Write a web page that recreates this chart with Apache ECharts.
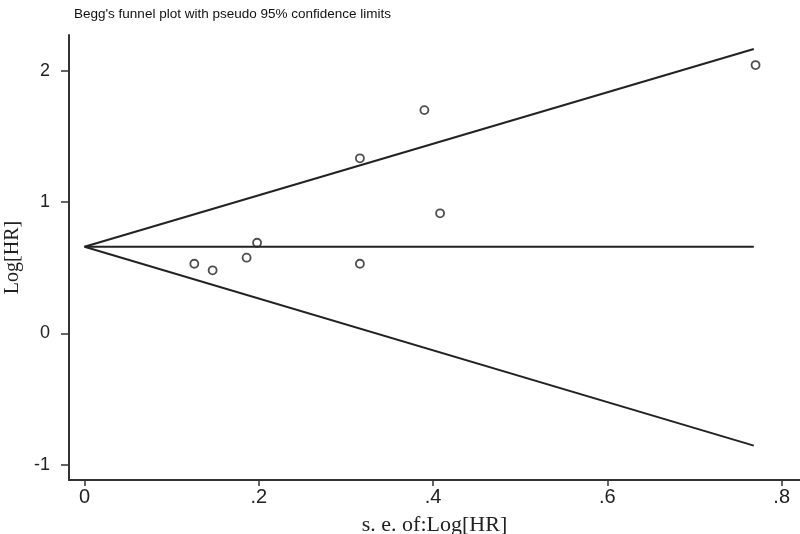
<!DOCTYPE html>
<html>
<head>
<meta charset="utf-8">
<script src="https://cdn.jsdelivr.net/npm/echarts@6/dist/echarts.min.js"></script>
<style>html,body{margin:0;padding:0;background:#fff;}#chart{width:800px;height:534px;}</style>
</head>
<body>
<div id="chart"></div>
<script>
// Study estimates
const seLogHR = [0.126, 0.147, 0.186, 0.198, 0.316, 0.316, 0.390, 0.408, 0.770];
const logHR   = [0.530, 0.480, 0.576, 0.690, 1.333, 0.530, 1.700, 0.914, 2.043];
// Funnel (pooled estimate and pseudo 95% limits), endpoints
const pooledLine = [[0, 0.66], [0.768, 0.66]];
const upperLimit = [[0, 0.66], [0.768, 2.165]];
const lowerLimit = [[0, 0.66], [0.768, -0.855]];
// Ticks
const xTicks = [0, 0.2, 0.4, 0.6, 0.8];
const yTicks = [-1, 0, 1, 2];

const chart = echarts.init(document.getElementById('chart'));
const ink = '#222';
const lineStyle = { color: ink, width: 2 };
const points = seLogHR.map((s, i) => [s, logHR[i]]);

chart.setOption({
  animation: false,
  backgroundColor: '#fff',
  title: {
    text: "Begg's funnel plot with pseudo 95% confidence limits",
    left: 69, top: 2,
    textStyle: { fontFamily: "'Liberation Sans', Arial, sans-serif", fontSize: 13.5, fontWeight: 'normal', color: '#111' }
  },
  grid: { left: 69, right: 0, top: 35, bottom: 54, containLabel: false, outerBoundsMode: 'none' },
  xAxis: {
    type: 'value', min: -0.0178, max: 0.821,
    name: 's. e. of:Log[HR]', nameLocation: 'middle', nameGap: 34,
    nameTextStyle: { fontFamily: "'Liberation Serif', 'DejaVu Serif', serif", fontSize: 22, color: ink },
    axisLine: { onZero: false, lineStyle: { color: '#333', width: 2 } },
    axisTick: { show: true, inside: false, length: 6, customValues: xTicks, lineStyle: { color: '#333', width: 1.5 } },
    axisLabel: {
      customValues: xTicks, margin: 7, color: ink,
      fontFamily: "'Liberation Sans', Arial, sans-serif", fontSize: 20,
      formatter: v => v === 0 ? '0' : String(+v.toFixed(1)).replace('0.', '.')
    },
    splitLine: { show: false }
  },
  yAxis: {
    type: 'value', min: -1.117, max: 2.272,
    name: 'Log[HR]', nameLocation: 'middle', nameGap: 44, nameRotate: 90,
    nameTextStyle: { fontFamily: "'Liberation Serif', 'DejaVu Serif', serif", fontSize: 20, color: ink },
    axisLine: { onZero: false, lineStyle: { color: '#333', width: 2 } },
    axisTick: { show: true, inside: false, length: 8, customValues: yTicks, lineStyle: { color: '#333', width: 1.5 } },
    axisLabel: {
      customValues: yTicks, margin: 19, color: ink,
      fontFamily: "'Liberation Sans', Arial, sans-serif", fontSize: 18
    },
    splitLine: { show: false }
  },
  series: [
    { type: 'line', data: upperLimit, symbol: 'none', lineStyle: lineStyle, silent: true },
    { type: 'line', data: pooledLine, symbol: 'none', lineStyle: lineStyle, silent: true },
    { type: 'line', data: lowerLimit, symbol: 'none', lineStyle: lineStyle, silent: true },
    {
      type: 'scatter', data: points, symbol: 'circle', symbolSize: 8,
      itemStyle: { color: '#fff', borderColor: ink, borderWidth: 1.8 }
    }
  ]
});
</script>
</body>
</html>
